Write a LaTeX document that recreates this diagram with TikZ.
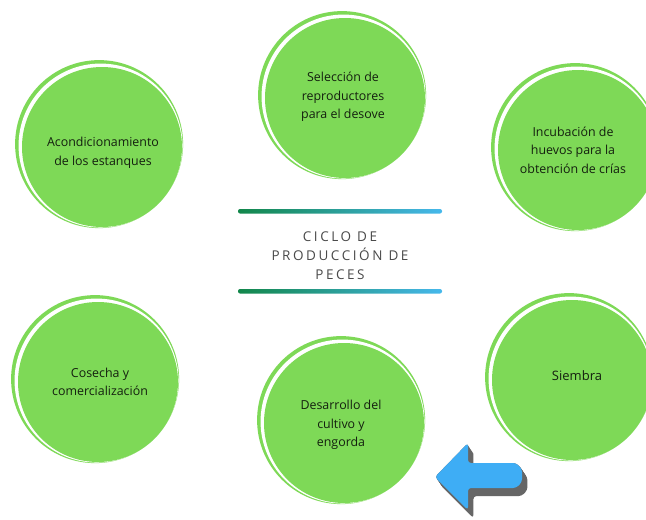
\documentclass[tikz,border=0pt]{standalone}
\usepackage{fontspec}
\setmainfont{Open Sans}
\newfontfamily\titlefont[LetterSpace=19]{Open Sans}
\begin{document}
\definecolor{leaf}{HTML}{7ED957}
\definecolor{ink}{HTML}{14200F}
\definecolor{titlegray}{HTML}{4A4A4A}
\definecolor{lineG}{HTML}{12874A}
\definecolor{lineB}{HTML}{46B8EC}
\definecolor{arrowblue}{HTML}{3EADF5}
\definecolor{arrowgray}{HTML}{666666}
\begin{tikzpicture}[x=1pt,y=-1pt,
  disk/.style={circle,fill=leaf,minimum size=160pt,inner sep=0pt},
  steptext/.style={text=ink,font=\fontsize{12.4}{18.6}\selectfont,align=center,inner sep=0pt},
  bar/.style={left color=lineG,right color=lineB,rounded corners=2pt}]
\useasboundingbox (0,0) rectangle (646,520);
\clip (0,0) rectangle (646,520);
\fill[white] (0,0) rectangle (646,520);

% one stage of the cycle: outer crescent ring, white gap, filled disk, label
\newcommand\cycstep[6]{%
  \fill[leaf] (#2-2.9,#3-2.9) circle (84);
  \fill[white] (#2-1.45,#3-1.45) circle (82);
  \node[disk] (#1) at (#2,#3) {};
  \node[steptext] (#1-t) at (#4,#5) {#6};
}

\cycstep{sel}{345}{98}{343}{97}{Selección de\\reproductores\\para el desove}
\cycstep{acon}{102}{147}{103}{153}{Acondicionamiento\\de los estanques}
\cycstep{incu}{578}{150}{573}{150}{Incubación de\\huevos para la\\obtención de crías}
\cycstep{cose}{98}{382}{100}{382}{Cosecha y\\comercialización}
\cycstep{desa}{344}{423}{341}{425}{Desarrollo del\\cultivo y\\engorda}
\cycstep{siem}{572}{380}{577}{376}{\fontsize{13}{18}\selectfont Siembra}

% title between two gradient bars
\shade[bar] (238,209) rectangle (442,213.5);
\shade[bar] (238,289) rectangle (442,293.5);
\node[text=titlegray,align=center,font=\titlefont\fontsize{13.5}{19}\selectfont]
  (title) at (340,256) {CICLO DE\\PRODUCCIÓN DE\\PECES};

% return arrow with an extruded shadow
\foreach \t in {0,0.1,...,1.0}{
  \fill[arrowgray,rounded corners=3pt,shift={(6*\t,9*\t)}]
    (435,477) -- (468,443) -- (468,463) -- (516,463) -- (522,469)
    -- (522,482) -- (516,488) -- (468,488) -- (468,510) -- cycle;
}
\fill[arrowblue,rounded corners=3pt] (435,477) -- (468,443) -- (468,463)
  -- (516,463) -- (522,469) -- (522,482) -- (516,488) -- (468,488)
  -- (468,510) -- cycle;
\coordinate (arrowtip) at (435,477);
\end{tikzpicture}
\end{document}
